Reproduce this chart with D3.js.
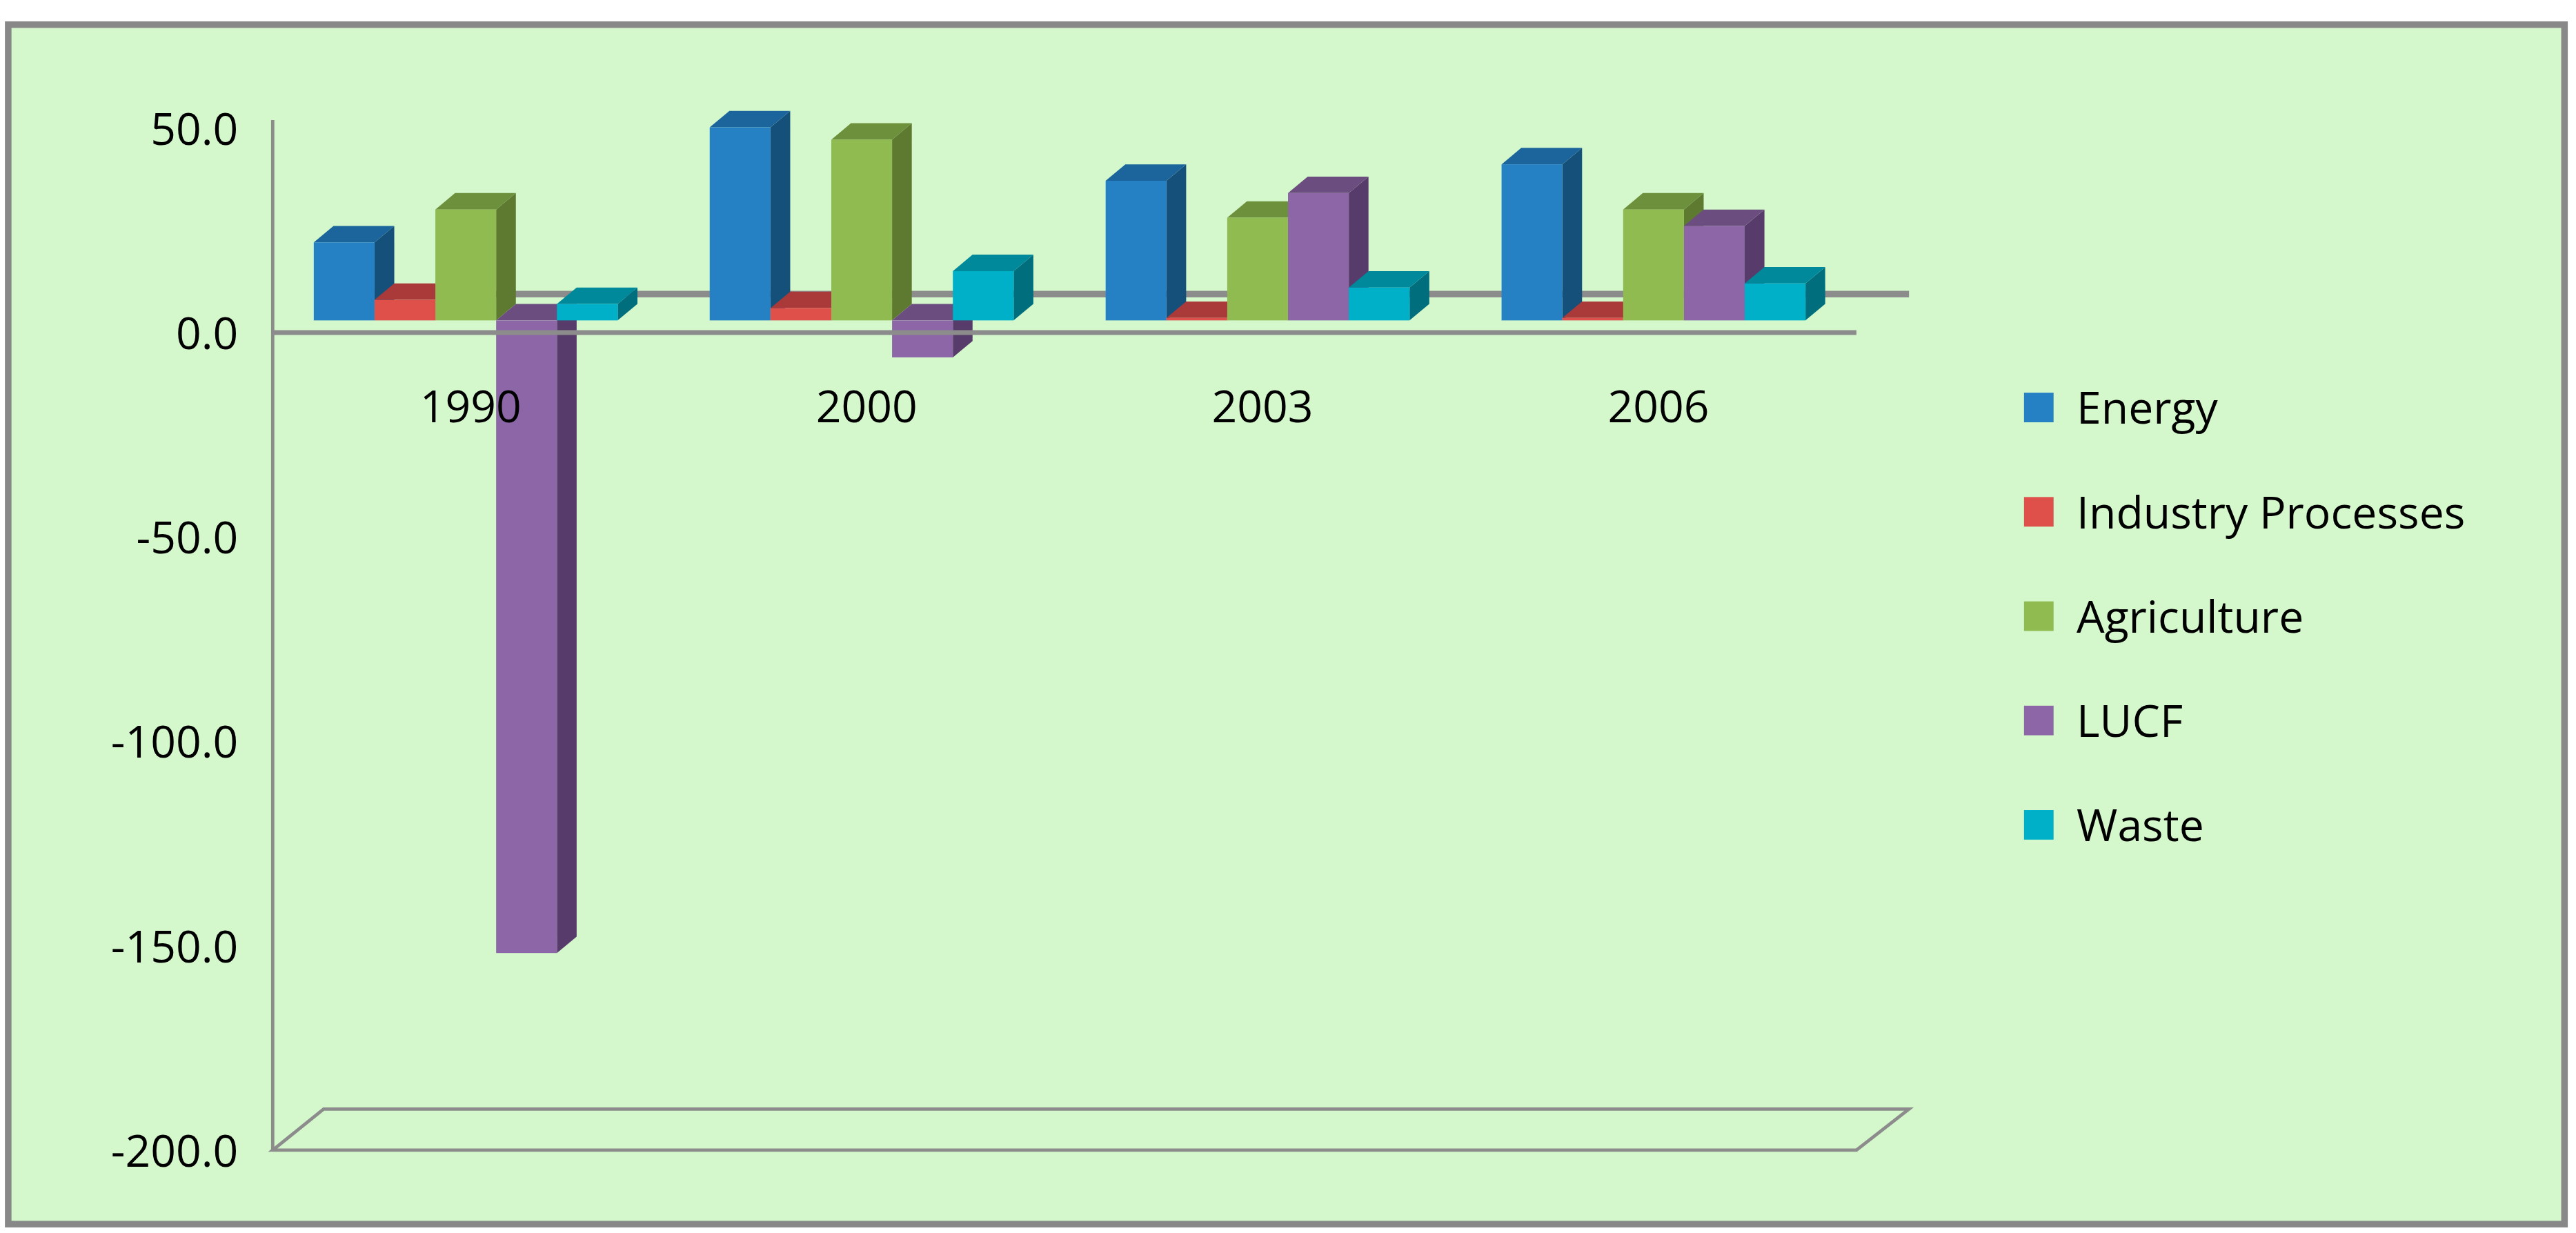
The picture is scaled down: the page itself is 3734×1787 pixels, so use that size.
<!DOCTYPE html>
<html><head><meta charset="utf-8">
<script src="https://cdn.jsdelivr.net/npm/d3@7"></script>
<style>html,body{margin:0;padding:0;background:#fff;}</style>
</head><body>
<script>
const categories = ["1990","2000","2003","2006"];
const seriesNames = ["Energy","Industry Processes","Agriculture","LUCF","Waste"];
const energy = [19, 47, 34, 38];
const industry = [5, 3, 0.6, 0.6];
const agriculture = [27, 44, 25, 27];
const lucf = [-154, -9, 31, 23];
const waste = [4, 12, 8, 9];
const yTicks = [50, 0, -50, -100, -150, -200];
const series = [energy, industry, agriculture, lucf, waste];
const colors = [
  {f:"#2581c4", s:"#15507b", t:"#1b649c"},
  {f:"#e0504b", s:"#9e3334", t:"#a93a39"},
  {f:"#8fbb51", s:"#5d7a30", t:"#6c903b"},
  {f:"#8c66a7", s:"#573c6b", t:"#6c4d80"},
  {f:"#00b0c9", s:"#006e7d", t:"#00889b"}
];
const W=1568, H=1568*1787/3734;
const svg=d3.select("body").append("svg").attr("width",3734).attr("height",1787)
  .attr("viewBox",`0 0 ${W} ${H}`).style("font-family","'Open Sans', sans-serif");
svg.append("rect").attr("x",5).attr("y",15).attr("width",1556).attr("height",730)
  .attr("fill","#d4f8cc").attr("stroke","#888").attr("stroke-width",4);
const x0=166, x1=1130, dx=12, dy=-10;
const yAxis=d3.scaleLinear().domain([-200,50]).range([700,78]);
const yBar=d3.scaleLinear().domain([-200,50]).range([695,70]);
const xb=d3.scaleBand().domain(categories).range([x0,x1]);
const xs=d3.scaleBand().domain(d3.range(5)).range([0,185]);
const gap=(xb.bandwidth()-185)/2 - 3;
// back gridline
svg.append("line").attr("x1",195).attr("x2",1162).attr("y1",179).attr("y2",179).attr("stroke","#8c8c8c").attr("stroke-width",4);
// floor
svg.append("path").attr("d",`M${x0},${yAxis(-200)}L${x1},${yAxis(-200)}L${x1+32},${yAxis(-200)-25}L${x0+31},${yAxis(-200)-25}Z`)
  .attr("fill","none").attr("stroke","#8c8c8c").attr("stroke-width",2);
// vertical axis
svg.append("line").attr("x1",x0).attr("x2",x0).attr("y1",yAxis(-200)).attr("y2",yAxis(52)).attr("stroke","#8c8c8c").attr("stroke-width",2);
const gb=svg.append("g");
categories.forEach((c,ci)=>{
  series.forEach((s,si)=>{
    const v=s[ci], bx=xb(c)+gap+xs(si), w=xs.bandwidth();
    const yt=Math.min(yBar(v),yBar(0)), yb=Math.max(yBar(v),yBar(0));
    const col=colors[si];
    gb.append("path").attr("d",`M${bx+w},${yt}L${bx+w+dx},${yt+dy}L${bx+w+dx},${yb+dy}L${bx+w},${yb}Z`).attr("fill",col.s);
    gb.append("path").attr("d",`M${bx},${yt}L${bx+dx},${yt+dy}L${bx+w+dx},${yt+dy}L${bx+w},${yt}Z`).attr("fill",col.t);
    gb.append("rect").attr("x",bx).attr("y",yt).attr("width",w).attr("height",Math.max(0.5,yb-yt)).attr("fill",col.f);
  });
  svg.append("text").attr("x",xb(c)+xb.bandwidth()/2).attr("y",257).attr("text-anchor","middle")
    .attr("font-size",27).text(c);
});
// front zero line
svg.append("line").attr("x1",x0).attr("x2",x1).attr("y1",yAxis(0)).attr("y2",yAxis(0)).attr("stroke","#8c8c8c").attr("stroke-width",3);
yTicks.forEach(t=>{
  svg.append("text").attr("x",145).attr("y",yAxis(t)+10).attr("text-anchor","end").attr("font-size",27).text(t.toFixed(1));
});
const lg=svg.append("g");
seriesNames.forEach((n,i)=>{
  const y=248+i*63.5;
  lg.append("rect").attr("x",1232).attr("y",y-9).attr("width",18).attr("height",18).attr("fill",colors[i].f);
  lg.append("text").attr("x",1264).attr("y",y+10).attr("font-size",27).text(n);
});
</script>
</body></html>
